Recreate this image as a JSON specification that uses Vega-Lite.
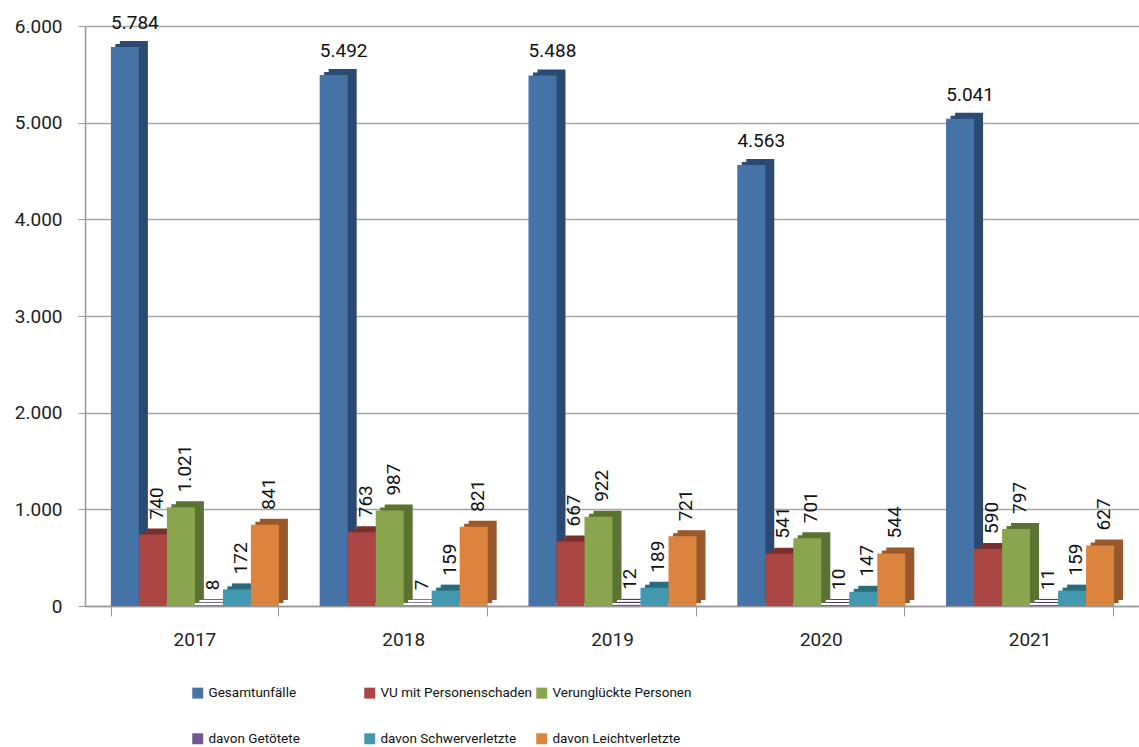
{
  "$schema": "https://vega.github.io/schema/vega-lite/v6.json",
  "width": 1054,
  "height": 580,
  "autosize": {"type": "none"},
  "padding": {"left": 85, "top": 26, "right": 0, "bottom": 141},
  "background": "white",
  "config": {
    "locale": {"number": {"decimal": ",", "thousands": ".", "grouping": [3], "currency": ["", " €"]}},
    "font": "Roboto",
    "view": {"stroke": null}
  },
  "data": {
    "values": [
      {"year": "2017", "series": "Gesamtunfälle", "value": 5784},
      {"year": "2017", "series": "VU mit Personenschaden", "value": 740},
      {"year": "2017", "series": "Verunglückte Personen", "value": 1021},
      {"year": "2017", "series": "davon Getötete", "value": 8},
      {"year": "2017", "series": "davon Schwerverletzte", "value": 172},
      {"year": "2017", "series": "davon Leichtverletzte", "value": 841},
      {"year": "2018", "series": "Gesamtunfälle", "value": 5492},
      {"year": "2018", "series": "VU mit Personenschaden", "value": 763},
      {"year": "2018", "series": "Verunglückte Personen", "value": 987},
      {"year": "2018", "series": "davon Getötete", "value": 7},
      {"year": "2018", "series": "davon Schwerverletzte", "value": 159},
      {"year": "2018", "series": "davon Leichtverletzte", "value": 821},
      {"year": "2019", "series": "Gesamtunfälle", "value": 5488},
      {"year": "2019", "series": "VU mit Personenschaden", "value": 667},
      {"year": "2019", "series": "Verunglückte Personen", "value": 922},
      {"year": "2019", "series": "davon Getötete", "value": 12},
      {"year": "2019", "series": "davon Schwerverletzte", "value": 189},
      {"year": "2019", "series": "davon Leichtverletzte", "value": 721},
      {"year": "2020", "series": "Gesamtunfälle", "value": 4563},
      {"year": "2020", "series": "VU mit Personenschaden", "value": 541},
      {"year": "2020", "series": "Verunglückte Personen", "value": 701},
      {"year": "2020", "series": "davon Getötete", "value": 10},
      {"year": "2020", "series": "davon Schwerverletzte", "value": 147},
      {"year": "2020", "series": "davon Leichtverletzte", "value": 544},
      {"year": "2021", "series": "Gesamtunfälle", "value": 5041},
      {"year": "2021", "series": "VU mit Personenschaden", "value": 590},
      {"year": "2021", "series": "Verunglückte Personen", "value": 797},
      {"year": "2021", "series": "davon Getötete", "value": 11},
      {"year": "2021", "series": "davon Schwerverletzte", "value": 159},
      {"year": "2021", "series": "davon Leichtverletzte", "value": 627}
    ]
  },
  "encoding": {
    "x": {
      "field": "year", "type": "nominal", "title": null,
      "scale": {"paddingInner": 0.2, "paddingOuter": 0.124},
      "axis": {
        "labelAngle": 0, "labelFontSize": 19, "labelColor": "#222", "labelPadding": 14,
        "domainColor": "#999", "domainWidth": 1.5, "tickColor": "#999", "tickSize": 10, "tickBand": "extent", "grid": false
      }
    },
    "y": {
      "field": "value", "type": "quantitative", "title": null,
      "scale": {"domain": [0, 6000], "nice": false},
      "axis": {
        "values": [0, 1000, 2000, 3000, 4000, 5000, 6000], "format": ",d",
        "labelFontSize": 19, "labelColor": "#222", "labelPadding": 16,
        "domainColor": "#999", "domainWidth": 1.5, "tickColor": "#999", "tickSize": 7,
        "gridColor": "#A6A6A6", "gridWidth": 1.5
      }
    }
  },
  "layer": [
    {
      "mark": {"type": "bar", "yOffset": -6, "y2Offset": 0},
      "encoding": {
        "xOffset": {
          "field": "series", "type": "nominal",
          "sort": ["Gesamtunfälle", "VU mit Personenschaden", "Verunglückte Personen", "davon Getötete", "davon Schwerverletzte", "davon Leichtverletzte"],
          "scale": {"paddingInner": 0, "paddingOuter": 0, "range": [9, 177]}
        },
        "color": {
          "field": "series", "type": "nominal", "legend": null,
          "sort": ["Gesamtunfälle", "VU mit Personenschaden", "Verunglückte Personen", "davon Getötete", "davon Schwerverletzte", "davon Leichtverletzte"],
          "scale": {"range": ["#2B4A72", "#7A2F2D", "#5B7233", "#4A3A62", "#2A6B7D", "#98582A"]}
        }
      }
    },
    {
      "mark": {"type": "bar", "yOffset": -3, "y2Offset": 0},
      "encoding": {
        "xOffset": {
          "field": "series", "type": "nominal",
          "sort": ["Gesamtunfälle", "VU mit Personenschaden", "Verunglückte Personen", "davon Getötete", "davon Schwerverletzte", "davon Leichtverletzte"],
          "scale": {"paddingInner": 0, "paddingOuter": 0, "range": [4.5, 172.5]}
        },
        "color": {
          "field": "series", "type": "nominal", "legend": null,
          "sort": ["Gesamtunfälle", "VU mit Personenschaden", "Verunglückte Personen", "davon Getötete", "davon Schwerverletzte", "davon Leichtverletzte"],
          "scale": {"range": ["#2B4A72", "#7A2F2D", "#5B7233", "#4A3A62", "#2A6B7D", "#98582A"]}
        }
      }
    },
    {
      "layer": [
        {
          "mark": {"type": "bar"},
          "encoding": {
            "color": {
              "field": "series", "type": "nominal",
              "sort": ["Gesamtunfälle", "VU mit Personenschaden", "Verunglückte Personen", "davon Getötete", "davon Schwerverletzte", "davon Leichtverletzte"],
              "scale": {"range": ["#4572A7", "#AA4643", "#89A54E", "#71588F", "#4198AF", "#DB843D"]},
              "legend": {
                "title": null, "orient": "none", "legendX": 106, "legendY": 660,
                "direction": "horizontal", "columns": 3, "gridAlign": "all",
                "symbolType": "square", "symbolSize": 120, "symbolStrokeWidth": 0,
                "labelFontSize": 13.5, "labelColor": "#111", "labelLimit": 300, "labelOffset": 4,
                "columnPadding": 2, "rowPadding": 31,
                "labelExpr": "indexof(datum.label, 'davon') == 0 ? '\u00a0\u00a0\u00a0' + datum.label : datum.label"
              }
            }
          }
        },
        {
          "transform": [{"filter": "datum.series == 'Gesamtunfälle'"}],
          "mark": {"type": "text", "fontSize": 19, "color": "#111", "dy": -24, "dx": 10, "baseline": "middle"},
          "encoding": {"text": {"field": "value", "type": "quantitative", "format": ",d"}}
        },
        {
          "transform": [{"filter": "datum.series != 'Gesamtunfälle'"}],
          "mark": {"type": "text", "fontSize": 19, "color": "#111", "angle": 270, "align": "left", "baseline": "middle", "dx": 15, "dy": 4},
          "encoding": {"text": {"field": "value", "type": "quantitative", "format": ",d"}}
        }
      ],
      "encoding": {
        "xOffset": {
          "field": "series", "type": "nominal",
          "sort": ["Gesamtunfälle", "VU mit Personenschaden", "Verunglückte Personen", "davon Getötete", "davon Schwerverletzte", "davon Leichtverletzte"],
          "scale": {"paddingInner": 0, "paddingOuter": 0, "range": [0, 168]}
        }
      }
    }
  ],
  "resolve": {"scale": {"color": "independent", "xOffset": "independent"}}
}
